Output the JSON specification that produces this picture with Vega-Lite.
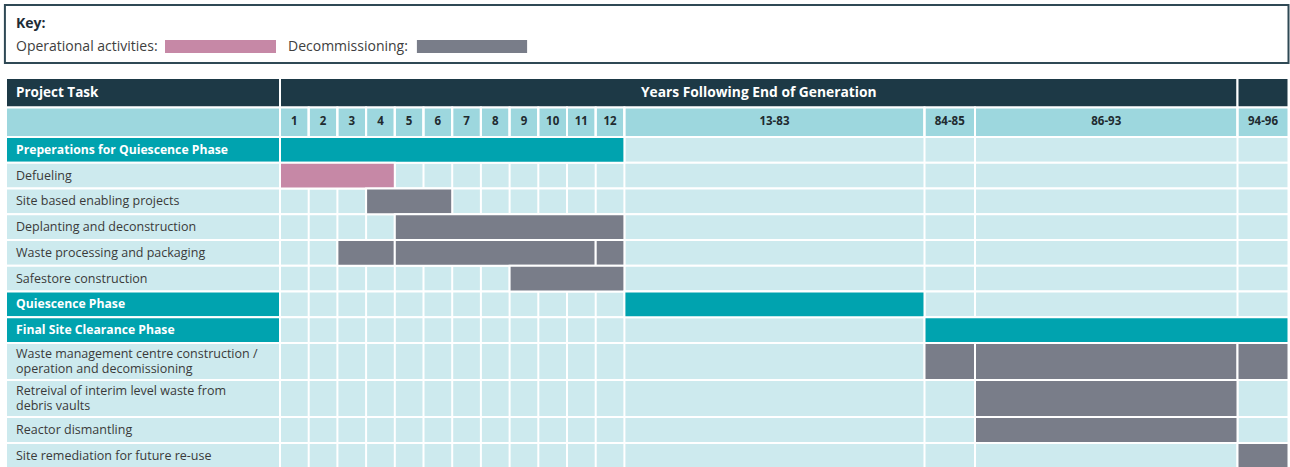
{
  "$schema": "https://vega.github.io/schema/vega-lite/v6.json",
  "width": 1290,
  "height": 467,
  "autosize": {"type": "fit", "contains": "padding"},
  "padding": 0,
  "background": "white",
  "config": {"view": {"stroke": null}, "font": "Open Sans"},
  "datasets": {
    "rows": [
      {"row": 2, "label": "Preperations for Quiescence Phase", "kind": "phase"},
      {"row": 3, "label": "Defueling", "kind": "task"},
      {"row": 4, "label": "Site based enabling projects", "kind": "task"},
      {"row": 5, "label": "Deplanting and deconstruction", "kind": "task"},
      {"row": 6, "label": "Waste processing and packaging", "kind": "task"},
      {"row": 7, "label": "Safestore construction", "kind": "task"},
      {"row": 8, "label": "Quiescence Phase", "kind": "phase"},
      {"row": 9, "label": "Final Site Clearance Phase", "kind": "phase"},
      {"row": 10, "label": "Waste management centre construction /\noperation and decomissioning", "kind": "task"},
      {"row": 11, "label": "Retreival of interim level waste from\ndebris vaults", "kind": "task"},
      {"row": 12, "label": "Reactor dismantling", "kind": "task"},
      {"row": 13, "label": "Site remediation for future re-use", "kind": "task"}
    ],
    "cols": [
      {"label": "1", "start": 0, "end": 1},
      {"label": "2", "start": 1, "end": 2},
      {"label": "3", "start": 2, "end": 3},
      {"label": "4", "start": 3, "end": 4},
      {"label": "5", "start": 4, "end": 5},
      {"label": "6", "start": 5, "end": 6},
      {"label": "7", "start": 6, "end": 7},
      {"label": "8", "start": 7, "end": 8},
      {"label": "9", "start": 8, "end": 9},
      {"label": "10", "start": 9, "end": 10},
      {"label": "11", "start": 10, "end": 11},
      {"label": "12", "start": 11, "end": 12},
      {"label": "13-83", "start": 12, "end": 83},
      {"label": "84-85", "start": 83, "end": 85},
      {"label": "86-93", "start": 85, "end": 93},
      {"label": "94-96", "start": 93, "end": 96}
    ],
    "hdr": [
      {"label": "Years Following End of Generation", "start": 0, "end": 93},
      {"label": "", "start": 93, "end": 96}
    ],
    "bars": [
      {"row": 2, "start": 0, "end": 12, "type": "Phase"},
      {"row": 3, "start": 0, "end": 4, "type": "Operational activities"},
      {"row": 4, "start": 3, "end": 6, "type": "Decommissioning"},
      {"row": 5, "start": 4, "end": 12, "type": "Decommissioning"},
      {"row": 6, "start": 2, "end": 4, "type": "Decommissioning"},
      {"row": 6, "start": 4, "end": 11, "type": "Decommissioning"},
      {"row": 6, "start": 11, "end": 12, "type": "Decommissioning"},
      {"row": 7, "start": 8, "end": 12, "type": "Decommissioning"},
      {"row": 8, "start": 12, "end": 83, "type": "Phase"},
      {"row": 9, "start": 83, "end": 96, "type": "Phase"},
      {"row": 10, "start": 83, "end": 85, "type": "Decommissioning"},
      {"row": 10, "start": 85, "end": 93, "type": "Decommissioning"},
      {"row": 10, "start": 93, "end": 96, "type": "Decommissioning"},
      {"row": 11, "start": 85, "end": 93, "type": "Decommissioning"},
      {"row": 12, "start": 85, "end": 93, "type": "Decommissioning"},
      {"row": 13, "start": 93, "end": 96, "type": "Decommissioning"}
    ]
  },
  "layer": [
    {
      "data": {"values": [{}]},
      "mark": {"type": "rect", "fill": "white", "stroke": "#2f4955", "strokeWidth": 2},
      "encoding": {
        "x": {"datum": -10.04, "type": "quantitative", "scale": {"type": "linear", "domain": [-10, 0, 12, 83, 85, 93, 96], "range": [6, 280, 624.4, 924.5, 975, 1237.5, 1288.5], "nice": false, "zero": false}, "axis": null},
        "x2": {"datum": 96},
        "y": {"datum": -4, "type": "quantitative", "scale": {"type": "linear", "domain": [-4, -3, -2, -1, -0.5, 0, 1, 2, 10, 12, 14], "range": [5, 28, 40, 53, 63, 78, 107.5, 137, 343, 417, 469], "nice": false, "zero": false}, "axis": null},
        "y2": {"datum": -0.5}
      }
    },
    {
      "data": {"values": [{"t": "Key:"}]},
      "mark": {"type": "text", "align": "left", "baseline": "alphabetic", "dx": 10, "fontSize": 14, "fontWeight": "bold", "color": "#1e2d36"},
      "encoding": {
        "x": {"datum": -10, "type": "quantitative"},
        "y": {"datum": -3, "type": "quantitative"},
        "text": {"field": "t"}
      }
    },
    {
      "data": {"values": [{"t": "Operational activities:"}]},
      "mark": {"type": "text", "align": "left", "baseline": "alphabetic", "dx": 10, "fontSize": 14, "color": "#404040"},
      "encoding": {
        "x": {"datum": -10, "type": "quantitative"},
        "y": {"datum": -1.15, "type": "quantitative"},
        "text": {"field": "t"}
      }
    },
    {
      "data": {"values": [{}]},
      "mark": {"type": "rect"},
      "encoding": {
        "x": {"datum": -4.197, "type": "quantitative"},
        "x2": {"datum": -0.146},
        "y": {"datum": -2, "type": "quantitative"},
        "y2": {"datum": -1},
        "color": {"datum": "Operational activities", "type": "nominal", "scale": {"domain": ["Operational activities", "Decommissioning", "Phase"], "range": ["#c688a6", "#797d89", "#00a3af"]}, "legend": null}
      }
    },
    {
      "data": {"values": [{"t": "Decommissioning:"}]},
      "mark": {"type": "text", "align": "left", "baseline": "alphabetic", "fontSize": 14, "color": "#404040"},
      "encoding": {
        "x": {"datum": 0.279, "type": "quantitative"},
        "y": {"datum": -1.15, "type": "quantitative"},
        "text": {"field": "t"}
      }
    },
    {
      "data": {"values": [{}]},
      "mark": {"type": "rect"},
      "encoding": {
        "x": {"datum": 4.77, "type": "quantitative"},
        "x2": {"datum": 8.61},
        "y": {"datum": -2, "type": "quantitative"},
        "y2": {"datum": -1},
        "color": {"datum": "Decommissioning", "type": "nominal", "legend": null}
      }
    },
    {
      "data": {"values": [{}]},
      "mark": {"type": "rect", "fill": "#1d3946", "stroke": "white", "strokeWidth": 2},
      "encoding": {
        "x": {"datum": -10, "type": "quantitative"},
        "x2": {"datum": 0},
        "y": {"datum": 0, "type": "quantitative"},
        "y2": {"datum": 1}
      }
    },
    {
      "data": {"name": "hdr"},
      "mark": {"type": "rect", "fill": "#1d3946", "stroke": "white", "strokeWidth": 2},
      "encoding": {
        "x": {"field": "start", "type": "quantitative"},
        "x2": {"field": "end"},
        "y": {"datum": 0, "type": "quantitative"},
        "y2": {"datum": 1}
      }
    },
    {
      "data": {"values": [{}]},
      "mark": {"type": "rect", "fill": "#9dd7de", "stroke": "white", "strokeWidth": 2},
      "encoding": {
        "x": {"datum": -10, "type": "quantitative"},
        "x2": {"datum": 0},
        "y": {"datum": 1, "type": "quantitative"},
        "y2": {"datum": 2}
      }
    },
    {
      "data": {"name": "cols"},
      "mark": {"type": "rect", "fill": "#9dd7de", "stroke": "white", "strokeWidth": 2},
      "encoding": {
        "x": {"field": "start", "type": "quantitative"},
        "x2": {"field": "end"},
        "y": {"datum": 1, "type": "quantitative"},
        "y2": {"datum": 2}
      }
    },
    {
      "data": {"name": "rows"},
      "transform": [{"calculate": "datum.row + 1", "as": "rowEnd"}],
      "mark": {"type": "rect", "stroke": "white", "strokeWidth": 2},
      "encoding": {
        "x": {"datum": -10, "type": "quantitative"},
        "x2": {"datum": 0},
        "y": {"field": "row", "type": "quantitative"},
        "y2": {"field": "rowEnd"},
        "fill": {"condition": {"test": "datum.kind === 'phase'", "value": "#00a3af"}, "value": "#cdeaee"}
      }
    },
    {
      "data": {"name": "rows"},
      "transform": [{"calculate": "datum.row + 1", "as": "rowEnd"}],
      "mark": {"type": "rect", "fill": "#cdeaee", "stroke": "white", "strokeWidth": 2},
      "encoding": {
        "x": {"datum": 0, "type": "quantitative"},
        "x2": {"datum": 96},
        "y": {"field": "row", "type": "quantitative"},
        "y2": {"field": "rowEnd"}
      }
    },
    {
      "data": {"name": "cols"},
      "transform": [{"filter": "datum.end < 96"}],
      "mark": {"type": "rule", "stroke": "white", "strokeWidth": 2},
      "encoding": {
        "x": {"field": "end", "type": "quantitative"},
        "y": {"datum": 1, "type": "quantitative"},
        "y2": {"datum": 14}
      }
    },
    {
      "data": {"name": "bars"},
      "transform": [{"calculate": "datum.row + 1", "as": "rowEnd"}],
      "mark": {"type": "rect", "stroke": "white", "strokeWidth": 2},
      "encoding": {
        "x": {"field": "start", "type": "quantitative"},
        "x2": {"field": "end"},
        "y": {"field": "row", "type": "quantitative"},
        "y2": {"field": "rowEnd"},
        "color": {"field": "type", "type": "nominal", "legend": null}
      }
    },
    {
      "data": {"values": [{"t": "Project Task"}]},
      "mark": {"type": "text", "align": "left", "baseline": "middle", "dx": 10, "fontSize": 13.5, "fontWeight": "bold", "color": "white"},
      "encoding": {
        "x": {"datum": -10, "type": "quantitative"},
        "y": {"datum": 0.5, "type": "quantitative"},
        "text": {"field": "t"}
      }
    },
    {
      "data": {"values": [{"t": "Years Following End of Generation"}]},
      "mark": {"type": "text", "align": "center", "baseline": "middle", "fontSize": 13.8, "fontWeight": "bold", "color": "white"},
      "encoding": {
        "x": {"datum": 43.79, "type": "quantitative"},
        "y": {"datum": 0.5, "type": "quantitative"},
        "text": {"field": "t"}
      }
    },
    {
      "data": {"name": "cols"},
      "transform": [{"calculate": "(datum.start + datum.end) / 2", "as": "mid"}],
      "mark": {"type": "text", "align": "center", "baseline": "middle", "fontSize": 11.5, "fontWeight": "bold", "color": "#1f2b30"},
      "encoding": {
        "x": {"field": "mid", "type": "quantitative"},
        "y": {"datum": 1.5, "type": "quantitative"},
        "text": {"field": "label"}
      }
    },
    {
      "data": {"name": "rows"},
      "transform": [{"filter": "datum.kind === 'task' && indexof(datum.label, '\\n') < 0"}, {"calculate": "datum.row + 0.5", "as": "mid"}],
      "mark": {"type": "text", "align": "left", "baseline": "middle", "dx": 10, "fontSize": 12.5, "color": "#3a3a3a"},
      "encoding": {
        "x": {"datum": -10, "type": "quantitative"},
        "y": {"field": "mid", "type": "quantitative"},
        "text": {"field": "label"}
      }
    },
    {
      "data": {"name": "rows"},
      "transform": [{"filter": "datum.kind === 'task' && indexof(datum.label, '\\n') >= 0"}, {"calculate": "datum.row + 0.5", "as": "mid"}],
      "mark": {"type": "text", "align": "left", "baseline": "middle", "dx": 10, "dy": -7.5, "fontSize": 12.5, "lineBreak": "\n", "lineHeight": 15, "color": "#3a3a3a"},
      "encoding": {
        "x": {"datum": -10, "type": "quantitative"},
        "y": {"field": "mid", "type": "quantitative"},
        "text": {"field": "label"}
      }
    },
    {
      "data": {"name": "rows"},
      "transform": [{"filter": "datum.kind === 'phase'"}, {"calculate": "datum.row + 0.5", "as": "mid"}],
      "mark": {"type": "text", "align": "left", "baseline": "middle", "dx": 10, "fontSize": 12.2, "fontWeight": "bold", "color": "white"},
      "encoding": {
        "x": {"datum": -10, "type": "quantitative"},
        "y": {"field": "mid", "type": "quantitative"},
        "text": {"field": "label"}
      }
    }
  ]
}
